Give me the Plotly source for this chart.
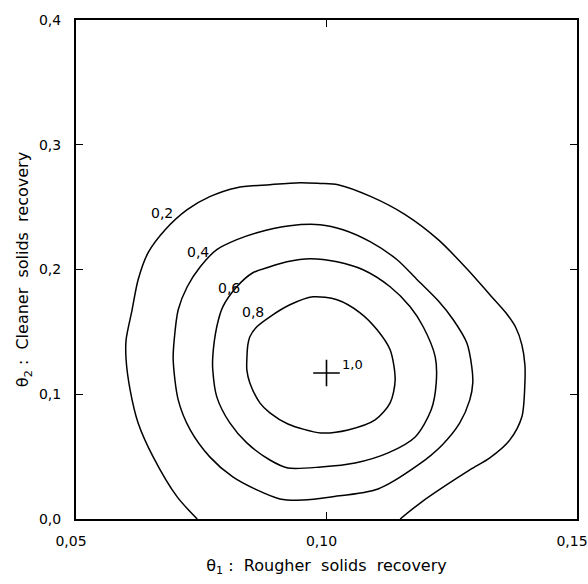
import plotly.graph_objects as go

# ---- data ----
levels = ["0,2", "0,4", "0,6", "0,8"]

c02_x = [0.0742, 0.0702, 0.0654, 0.0624, 0.0608, 0.0600, 0.0600, 0.0612, 0.0624, 0.0644,
         0.0678, 0.0722, 0.0767, 0.0821, 0.0887, 0.0947, 0.0987, 0.1023, 0.1089, 0.1157,
         0.1223, 0.1282, 0.1326, 0.1358, 0.1378, 0.1390, 0.1396, 0.1396, 0.1390, 0.1366,
         0.1326, 0.1286, 0.1187, 0.1147]
c02_y = [0.000, 0.0177, 0.0498, 0.0770, 0.1035, 0.1276, 0.1436, 0.1677, 0.1918, 0.2135,
         0.2319, 0.2480, 0.2584, 0.2656, 0.2680, 0.2696, 0.2690, 0.2680, 0.2584, 0.2440,
         0.2239, 0.1998, 0.1798, 0.1653, 0.1533, 0.1396, 0.1236, 0.1091, 0.0819, 0.0634,
         0.0490, 0.0393, 0.0128, 0.000]

c04_x = [0.0694, 0.0696, 0.0704, 0.0722, 0.0748, 0.0781, 0.0821, 0.0861, 0.0927, 0.0987,
         0.1033, 0.1087, 0.1141, 0.1181, 0.1223, 0.1253, 0.1280, 0.1290, 0.1292, 0.1286,
         0.1266, 0.1231, 0.1183, 0.1103, 0.1009, 0.0953, 0.0907, 0.0861, 0.0813, 0.0767,
         0.0728, 0.0704, 0.0694]
c04_y = [0.1276, 0.1436, 0.1677, 0.1862, 0.2022, 0.2159, 0.2239, 0.2295, 0.2351, 0.2359,
         0.2319, 0.2223, 0.2078, 0.1918, 0.1749, 0.1597, 0.1412, 0.1220, 0.1091, 0.0955,
         0.0770, 0.0594, 0.0433, 0.0241, 0.0177, 0.0152, 0.0161, 0.0233, 0.0337, 0.0498,
         0.0714, 0.0955, 0.1276]

c06_x = [0.0773, 0.0781, 0.0793, 0.0821, 0.0853, 0.0887, 0.0921, 0.0967, 0.1021, 0.1073,
         0.1127, 0.1167, 0.1193, 0.1217, 0.1219, 0.1209, 0.1177, 0.1123, 0.1057, 0.0989,
         0.0923, 0.0887, 0.0841, 0.0807, 0.0781, 0.0773, 0.0773]
c06_y = [0.1300, 0.1541, 0.1701, 0.1862, 0.1974, 0.2022, 0.2062, 0.2087, 0.2062, 0.1998,
         0.1862, 0.1701, 0.1541, 0.1300, 0.1091, 0.0875, 0.0658, 0.0530, 0.0449, 0.0417,
         0.0409, 0.0473, 0.0610, 0.0770, 0.0979, 0.1196, 0.1300]

c08_x = [0.0841, 0.0843, 0.0847, 0.0861, 0.0887, 0.0927, 0.0973, 0.1021, 0.1067, 0.1101,
         0.1127, 0.1137, 0.1127, 0.1097, 0.1043, 0.0989, 0.0923, 0.0887, 0.0867, 0.0847,
         0.0841, 0.0841]
c08_y = [0.1276, 0.1396, 0.1461, 0.1541, 0.1621, 0.1717, 0.1781, 0.1757, 0.1653, 0.1517,
         0.1356, 0.1115, 0.0931, 0.0794, 0.0714, 0.0690, 0.0762, 0.0851, 0.0931, 0.1091,
         0.1196, 0.1276]

label_x = [0.0672, 0.0744, 0.0805, 0.0853]
label_y = [0.2456, 0.2143, 0.1854, 0.1661]

opt_x = [0.100]
opt_y = [0.117]
opt_label = "1,0"
opt_label_x = 0.1051
opt_label_y = 0.1236

x_ticks = [0.05, 0.10, 0.15]
x_ticktext = ["0,05", "0,10", "0,15"]
y_ticks = [0.0, 0.1, 0.2, 0.3, 0.4]
y_ticktext = ["0,0", "0,1", "0,2", "0,3", "0,4"]

FONT = "DejaVu Sans"

fig = go.Figure()
for cx, cy in [(c02_x, c02_y), (c04_x, c04_y), (c06_x, c06_y), (c08_x, c08_y)]:
    fig.add_trace(go.Scatter(x=cx, y=cy, mode="lines",
                             line=dict(color="black", width=1.5, shape="spline", smoothing=0.8),
                             hoverinfo="skip", showlegend=False))

fig.add_trace(go.Scatter(x=opt_x, y=opt_y, mode="markers",
                         marker=dict(symbol="cross-thin", size=19,
                                     line=dict(color="black", width=1.6)),
                         showlegend=False))

for t, lx, ly in zip(levels, label_x, label_y):
    fig.add_annotation(x=lx, y=ly, text=t, showarrow=False,
                       font=dict(family=FONT, size=14, color="black"))
fig.add_annotation(x=opt_label_x, y=opt_label_y, text=opt_label, showarrow=False,
                   font=dict(family=FONT, size=13, color="black"))

axis_common = dict(showline=True, linecolor="black", linewidth=2, mirror="ticks",
                   ticks="inside", ticklen=7, tickwidth=1.3, tickcolor="black",
                   showgrid=False, zeroline=False, ticklabeloverflow="allow",
                   tickfont=dict(family=FONT, size=14, color="black"))

fig.update_xaxes(range=[0.05, 0.15], tickvals=x_ticks, ticktext=x_ticktext,
                 ticklabelshift=-5, ticklabelstandoff=8,
                 title=dict(text="θ<sub>1</sub> :  Rougher  solids  recovery",
                            font=dict(family=FONT, size=16, color="black"), standoff=12),
                 **axis_common)
fig.update_yaxes(range=[0.0, 0.4], tickvals=y_ticks, ticktext=y_ticktext,
                 ticklabelstandoff=10,
                 title=dict(text="θ<sub>2</sub> :  Cleaner  solids  recovery",
                            font=dict(family=FONT, size=16, color="black"), standoff=6),
                 **axis_common)

fig.update_layout(width=588, height=584,
                  margin=dict(l=76, r=11, t=20, b=65, autoexpand=False),
                  plot_bgcolor="white", paper_bgcolor="white")

# remove the default page margin so the figure fills the window exactly
fig.write_html("out.html",
               config={"displayModeBar": False},
               post_script="document.body.style.margin='0';"
                           "document.documentElement.style.overflow='hidden';")
